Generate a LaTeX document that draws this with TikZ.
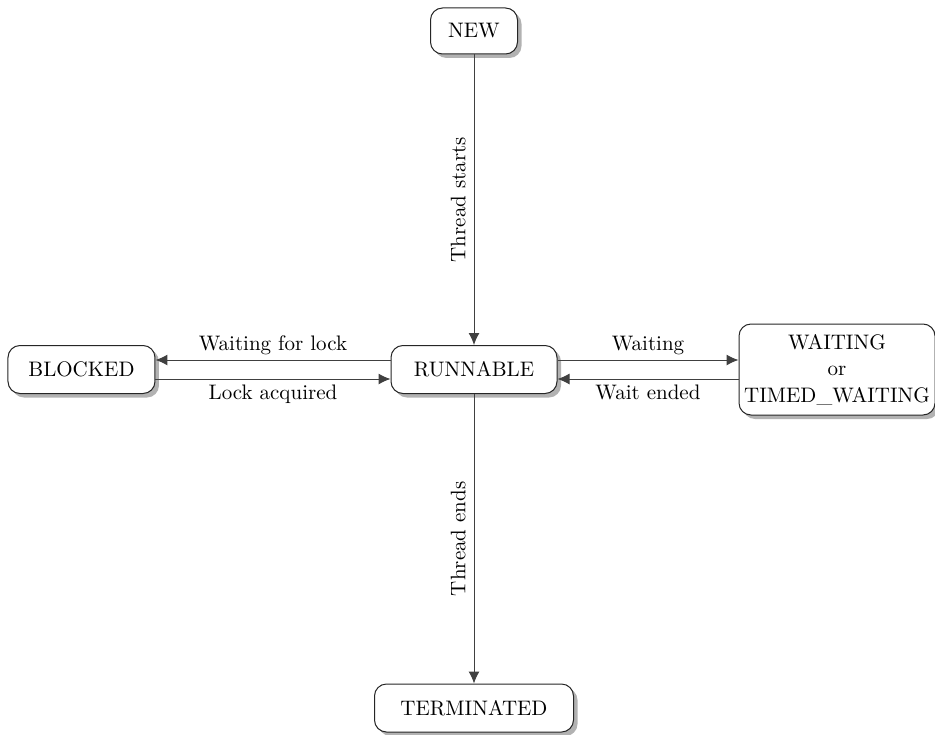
\documentclass[tikz,border=0pt]{standalone}
\usepackage{amsmath}
\usepackage{xcolor}
\usepackage{tikz}
\usetikzlibrary{arrows.meta,shadows}

\begin{document}
\begin{tikzpicture}[node distance = 2cm,inner sep=1pt,
  font=\fontsize{10.5pt}{13.25pt}\selectfont,
  tstate/.style={draw=black!85,line width=0.5pt,fill=white,rounded corners=6pt,
    inner sep=0pt,minimum height=24pt,align=center,
    drop shadow={shadow xshift=2pt,shadow yshift=-2pt,fill=black,opacity=0.3}},
  >={Latex[length=6pt,width=5.5pt]}]
\useasboundingbox (-237pt,-182.25pt) rectangle (230.5pt,184.75pt);

\node[tstate,minimum width=83pt] (R) {RUNNABLE};
\node[tstate,minimum width=43.5pt,minimum height=23pt] (N) [above of = R, node distance = 169.25pt] {NEW};
\node[tstate,minimum width=99.5pt] (T) [below of = R, node distance = 169.25pt] {TERMINATED};
\node[tstate,minimum width=73.5pt] (B) [left of = R, node distance = 196.25pt] {BLOCKED};
\node[tstate,minimum width=98pt,minimum height=45.5pt] (W) [right of = R, node distance = 181.5pt] {WAITING\\or\\TIMED\_WAITING};

\path (N) edge [->,line width=0.5pt,draw=black!75] node [rotate=90,anchor=south,inner sep=4pt] {Thread starts} (R);
\path (R) edge [->,line width=0.5pt,draw=black!75] node [rotate=90,anchor=south,inner sep=4pt] {Thread ends} (T);
\path ([yshift=4.75pt]R.west) edge [->,line width=0.5pt,draw=black!75] node [above,inner sep=2.5pt] {Waiting for lock} ([yshift=4.75pt]B.east);
\path ([yshift=-4.75pt]B.east) edge [->,line width=0.5pt,draw=black!75] node [below,inner sep=2.5pt] {Lock acquired} ([yshift=-4.75pt]R.west);
\path ([yshift=4.75pt]R.east) edge [->,line width=0.5pt,draw=black!75] node [above,inner sep=2.5pt] {Waiting} ([yshift=4.75pt]W.west);
\path ([yshift=-4.75pt]W.west) edge [->,line width=0.5pt,draw=black!75] node [below,inner sep=2.5pt] {Wait ended} ([yshift=-4.75pt]R.east);
\end{tikzpicture}
\end{document}
